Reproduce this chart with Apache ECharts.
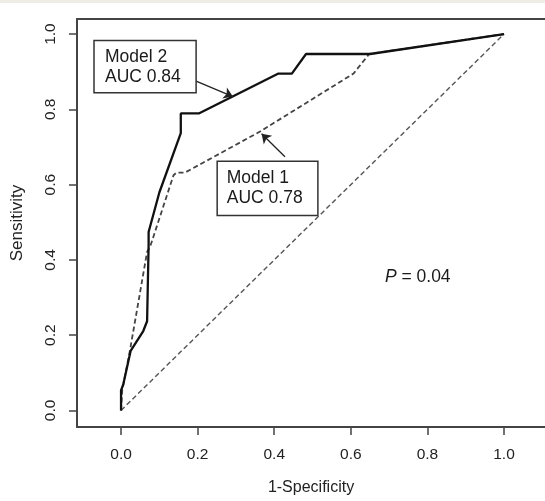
<!DOCTYPE html>
<html>
<head>
<meta charset="utf-8">
<script src="https://cdn.jsdelivr.net/npm/echarts@6/dist/echarts.min.js"></script>
<style>
  html, body { margin: 0; padding: 0; background: #ffffff; }
  #chart { width: 545px; height: 501px; }
</style>
</head>
<body>
<div id="chart"></div>
<script>
// ROC curves (1-specificity, sensitivity)
const model2X = [0, 0, 0.006, 0.025, 0.058, 0.068, 0.072, 0.072, 0.100, 0.156, 0.156, 0.203, 0.411, 0.446, 0.483, 0.650, 1.0];
const model2Y = [0, 0.053, 0.070, 0.158, 0.211, 0.237, 0.440, 0.474, 0.579, 0.737, 0.789, 0.789, 0.895, 0.895, 0.947, 0.947, 1.0];
const model1X = [0, 0.003, 0.023, 0.068, 0.076, 0.137, 0.145, 0.167, 0.363, 0.607, 0.648, 1.0];
const model1Y = [0, 0.053, 0.158, 0.421, 0.435, 0.625, 0.632, 0.632, 0.741, 0.895, 0.947, 1.0];
const refX = [0, 1];
const refY = [0, 1];
const ticks = [0, 0.2, 0.4, 0.6, 0.8, 1.0];

const pairs = (xs, ys) => xs.map((x, i) => [x, ys[i]]);

const chart = echarts.init(document.getElementById("chart"));

const axisColor = "#444";
const font = '"Liberation Sans", Arial, sans-serif';

const baseAxis = {
  type: "value",
  axisLine: { show: true, onZero: false, lineStyle: { color: axisColor, width: 2 } },
  splitLine: { show: false },
};

const options = {
  animation: false,
  backgroundColor: "#ffffff",
  grid: { left: 77, right: 0, top: 19, bottom: 68 },
  xAxis: [
    {
      ...baseAxis,
      min: -0.115,
      max: 1.107,
      position: "bottom",
      axisTick: { show: true, length: 8, customValues: ticks, lineStyle: { color: axisColor, width: 1.5 } },
      axisLabel: {
        customValues: ticks,
        formatter: (v) => v.toFixed(1),
        margin: 20,
        fontSize: 15.5,
        fontFamily: font,
        color: "#222",
      },
      name: "1-Specificity",
      nameLocation: "middle",
      nameGap: 53,
      nameTextStyle: { fontSize: 16, fontFamily: font, color: "#222" },
    },
    {
      ...baseAxis,
      min: -0.115,
      max: 1.107,
      position: "top",
      axisTick: { show: false },
      axisLabel: { show: false },
    },
  ],
  yAxis: {
    ...baseAxis,
    min: -0.044,
    max: 1.04,
    axisTick: { show: true, length: 8, customValues: ticks, lineStyle: { color: axisColor, width: 1.5 } },
    axisLabel: {
      customValues: ticks,
      formatter: (v) => v.toFixed(1),
      rotate: 90,
      margin: 18,
      fontSize: 15.5,
      fontFamily: font,
      color: "#222",
    },
    name: "Sensitivity",
    nameLocation: "middle",
    nameRotate: 90,
    nameGap: 51,
    nameTextStyle: { fontSize: 17, fontFamily: font, color: "#222" },
  },
  series: [
    {
      name: "Reference",
      type: "line",
      data: pairs(refX, refY),
      showSymbol: false,
      silent: true,
      lineStyle: { color: "#555", width: 1.4, type: [5, 3] },
      markLine: {
        silent: true,
        symbol: ["none", "arrow"],
        symbolSize: 9,
        label: { show: false },
        lineStyle: { color: "#222", width: 1.3, type: "solid" },
        data: [
          [{ coord: [0.196, 0.875] }, { coord: [0.292, 0.834] }],
          [{ coord: [0.428, 0.674] }, { coord: [0.367, 0.735] }],
        ],
      },
    },
    {
      name: "Model 1",
      type: "line",
      data: pairs(model1X, model1Y),
      showSymbol: false,
      silent: true,
      lineStyle: { color: "#444", width: 1.8, type: [5, 3] },
    },
    {
      name: "Model 2",
      type: "line",
      data: pairs(model2X, model2Y),
      showSymbol: false,
      silent: true,
      lineStyle: { color: "#111", width: 2.3 },
    },
  ],
};

chart.setOption(options);

// annotation boxes, placed in data units
const px = (x, y) => chart.convertToPixel({ gridIndex: 0 }, [x, y]);

const box = (x0, y0, x1, y1) => {
  const a = px(x0, y0);
  const b = px(x1, y1);
  return {
    type: "rect",
    z: 100,
    shape: { x: a[0], y: a[1], width: b[0] - a[0], height: b[1] - a[1] },
    style: { fill: "#fff", stroke: "#333", lineWidth: 1.5 },
  };
};

const label = (x, y, text) => {
  const p = px(x, y);
  return {
    type: "text",
    z: 101,
    x: p[0],
    y: p[1],
    style: {
      text: text,
      font: '17.5px "Liberation Sans", Arial, sans-serif',
      lineHeight: 20,
      fill: "#1a1a1a",
      verticalAlign: "top",
    },
  };
};

const pPos = px(0.689, 0.378);

chart.setOption({
  graphic: [
    { type: "rect", shape: { x: 0, y: 0, width: 545, height: 3 }, style: { fill: "#efede6" } },
    box(-0.0706, 0.983, 0.196, 0.844),
    label(-0.042, 0.966, "Model 2\nAUC 0.84"),
    box(0.251, 0.662, 0.514, 0.518),
    label(0.276, 0.643, "Model 1\nAUC 0.78"),
    {
      type: "text",
      z: 101,
      x: pPos[0],
      y: pPos[1],
      style: {
        rich: {
          i: { fontStyle: "italic", fontSize: 17.5, fontFamily: font, fill: "#1a1a1a" },
          n: { fontSize: 17.5, fontFamily: font, fill: "#1a1a1a" },
        },
        text: "{i|P}{n| = 0.04}",
        verticalAlign: "top",
      },
    },
  ],
});

window.addEventListener("resize", () => chart.resize());
</script>
</body>
</html>
